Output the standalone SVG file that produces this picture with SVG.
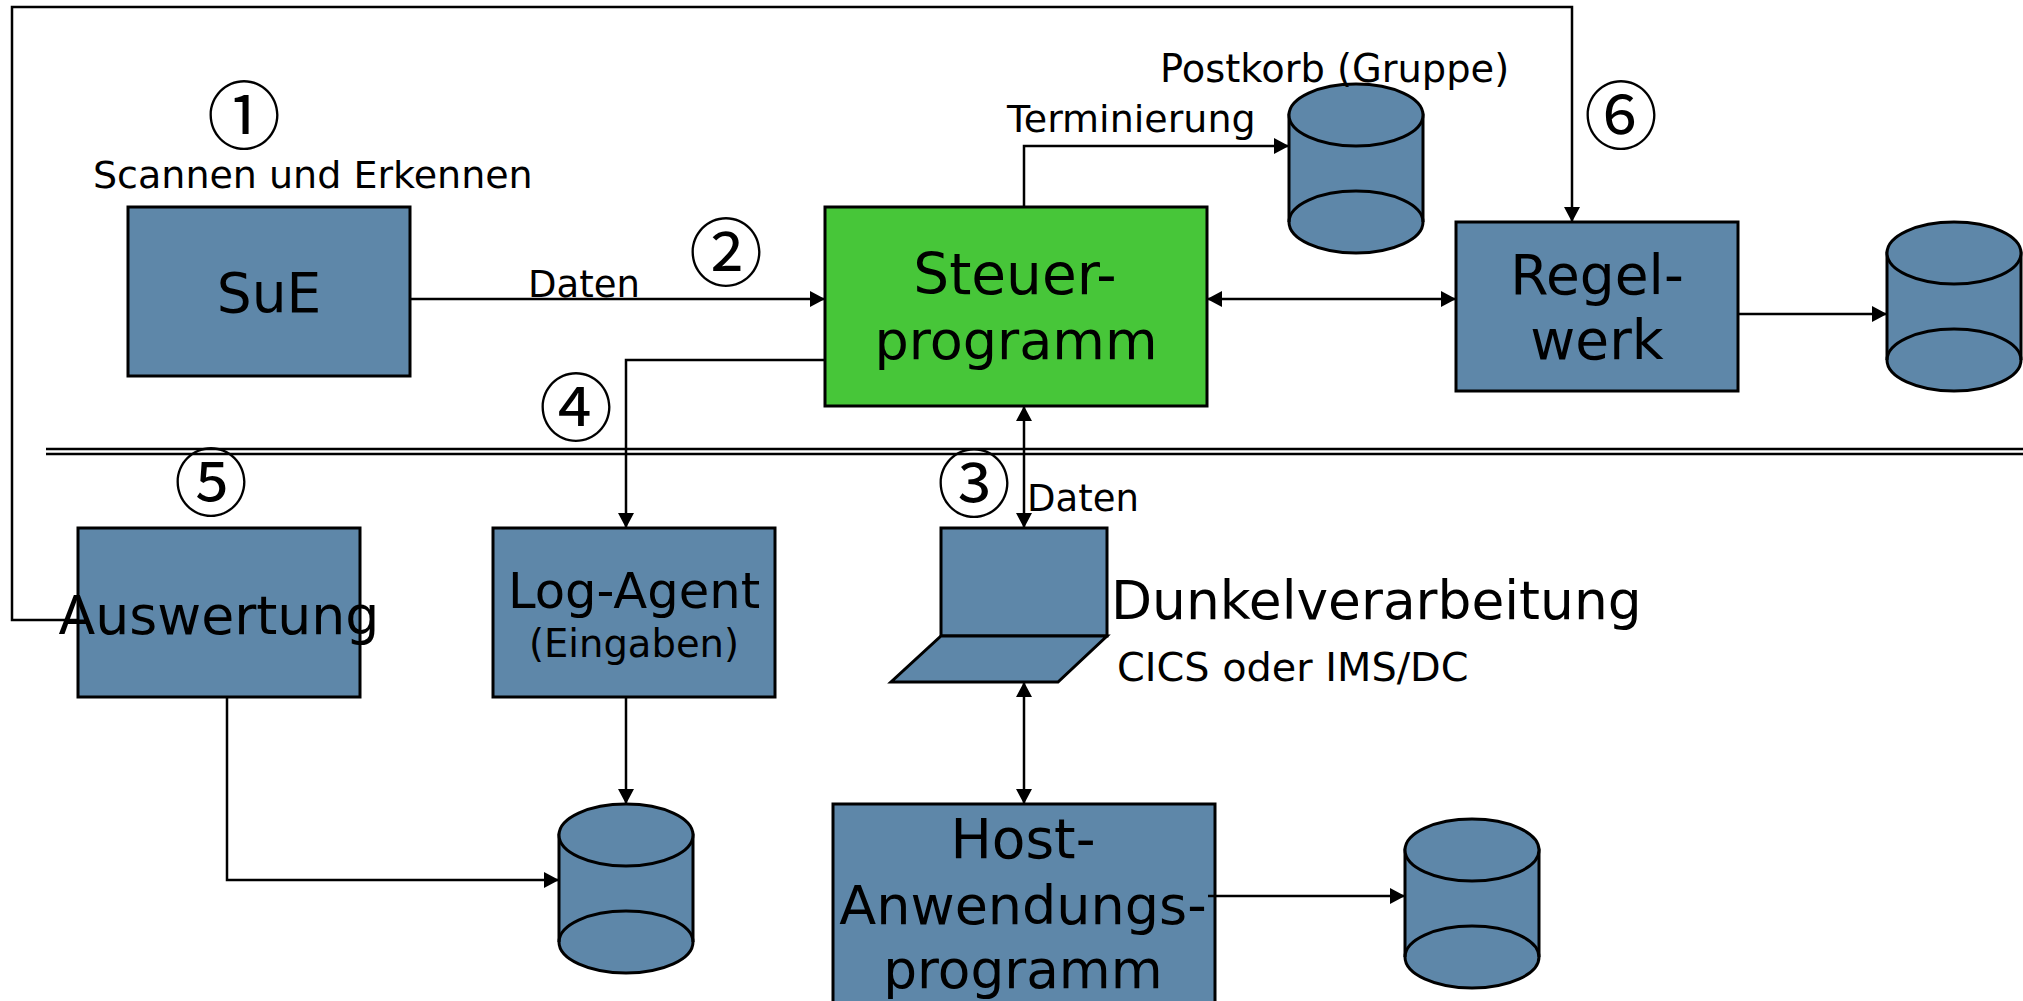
<svg xmlns="http://www.w3.org/2000/svg" width="2023" height="1001" viewBox="0 0 2023 1001">
<style>
.b{fill:#5e87a9;stroke:#000;stroke-width:3}
.g{fill:#47c639;stroke:#000;stroke-width:3}
.c{fill:none;stroke:#000;stroke-width:2.5}
text{font-family:"DejaVu Sans",sans-serif;fill:#000}
.l{font-size:55px;text-anchor:middle}
.s{font-size:38px}
text.n{font-family:"Noto Sans CJK JP","DejaVu Sans",sans-serif;font-size:74px;text-anchor:middle}
</style>
<defs>
<marker id="e" markerUnits="userSpaceOnUse" markerWidth="16" markerHeight="16" refX="15" refY="8" orient="auto-start-reverse"><path d="M0 0L15 8L0 16Z" fill="#000"/></marker>
<symbol id="cyl" overflow="visible"><path class="b" d="M0 31V138A67 31 0 0 0 134 138V31Z"/><ellipse class="b" cx="67" cy="31" rx="67" ry="31"/><path class="b" style="fill:none" d="M0 138A67 31 0 0 1 134 138"/></symbol>
</defs>
<rect width="2023" height="1001" fill="#fff"/>
<g id="node-sue"><rect class="b" x="128" y="207" width="282" height="169"/><text class="l" x="269" y="312">SuE</text></g>
<g id="node-steuer"><rect class="g" x="825" y="207" width="382" height="199"/><text class="l" x="1015" y="294" style="font-size:56.5px">Steuer-</text><text class="l" x="1016" y="359" style="font-size:54px">programm</text></g>
<g id="node-regel"><rect class="b" x="1456" y="222" width="282" height="169"/><text class="l" x="1597" y="294">Regel-</text><text class="l" x="1597" y="359">werk</text></g>
<g id="node-auswertung"><rect class="b" x="78" y="528" width="282" height="169"/></g>
<g id="node-log"><rect class="b" x="493" y="528" width="282" height="169"/><text x="634" y="608" font-size="49.6" text-anchor="middle">Log-Agent</text><text x="634" y="657" font-size="38.5" text-anchor="middle">(Eingaben)</text></g>
<g id="node-dunkel"><rect class="b" x="941" y="528" width="166" height="108"/><path class="b" d="M941 636H1107L1058 682H891Z"/><text x="1111" y="619" font-size="53.4">Dunkelverarbeitung</text><text x="1117" y="681" font-size="39.8">CICS oder IMS/DC</text></g>
<g id="node-host"><rect class="b" x="833" y="804" width="382" height="210"/><text class="l" x="1023" y="858">Host-</text><text class="l" x="1023" y="924" style="font-size:54px">Anwendungs-</text><text class="l" x="1023" y="988" style="font-size:53.3px">programm</text></g>
<g id="db-postkorb"><use href="#cyl" x="1289" y="84"/></g>
<g id="db-regel"><use href="#cyl" x="1887" y="222"/></g>
<g id="db-log"><use href="#cyl" x="559" y="804"/></g>
<g id="db-host"><use href="#cyl" x="1405" y="819"/></g>
<g id="connectors">
<path class="c" d="M46 449H2023M46 454H2023"/>
<path class="c" d="M410 299H825" marker-end="url(#e)"/>
<path class="c" d="M1207 299H1456" marker-start="url(#e)" marker-end="url(#e)"/>
<path class="c" d="M1024 207V146H1289" marker-end="url(#e)"/>
<path class="c" d="M1738 314H1887" marker-end="url(#e)"/>
<path class="c" d="M825 360H626V528" marker-end="url(#e)"/>
<path class="c" d="M1024 406V528" marker-start="url(#e)" marker-end="url(#e)"/>
<path class="c" d="M78 620H12V7H1572V222" marker-end="url(#e)"/>
<path class="c" d="M227 697V880H559" marker-end="url(#e)"/>
<path class="c" d="M626 697V804" marker-end="url(#e)"/>
<path class="c" d="M1024 682V804" marker-start="url(#e)" marker-end="url(#e)"/>
<path class="c" d="M1208 896H1405" marker-end="url(#e)"/>
</g>
<g id="labels">
<text x="219" y="634" font-size="53.7" text-anchor="middle">Auswertung</text>
<text class="s" x="93" y="188">Scannen und Erkennen</text>
<text x="528" y="297" font-size="37">Daten</text>
<text x="1160" y="82" font-size="38.4">Postkorb (Gruppe)</text>
<text class="s" x="1007" y="132">Terminierung</text>
<text x="1027" y="511" font-size="37">Daten</text>
<text class="n" x="244" y="143">①</text>
<text class="n" x="726" y="280">②</text>
<text class="n" x="974" y="511">③</text>
<text class="n" x="576" y="435">④</text>
<text class="n" x="211" y="510">⑤</text>
<text class="n" x="1621" y="143">⑥</text>
</g>
</svg>
